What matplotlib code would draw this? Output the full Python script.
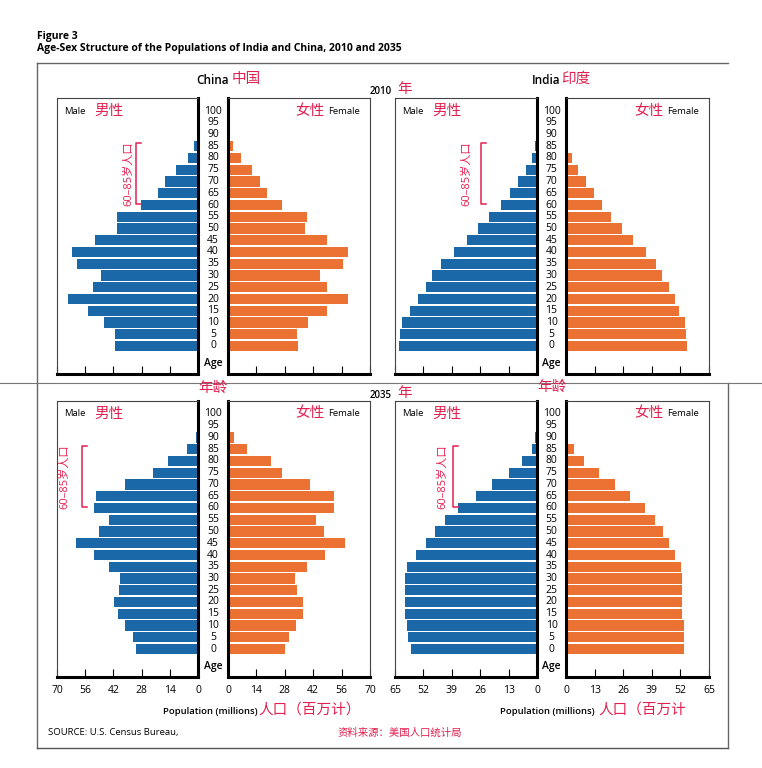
import matplotlib
matplotlib.use("Agg")
import matplotlib.pyplot as plt
from matplotlib.lines import Line2D
from matplotlib.transforms import blended_transform_factory

plt.rcParams['font.family'] = ['Open Sans', 'Noto Sans CJK SC', 'DejaVu Sans']

W, H = 762, 768
BLUE = '#1a68a8'
ORANGE = '#eb7232'
RED = '#e3204f'

ages = [str(a) for a in range(0, 101, 5)]

# population in millions, age groups 0-4 ... 100+
china_2010_m = [41.2, 41.2, 46.7, 54.8, 64.4, 52.1, 48.2, 60.1, 62.7, 51.0, 40.4,
                40.0, 28.3, 19.9, 16.2, 10.9, 5.1, 1.8, 0.6, 0, 0]
china_2010_f = [34.6, 33.8, 39.6, 48.9, 59.1, 48.9, 45.5, 56.5, 59.4, 48.9, 38.1,
                38.8, 26.8, 19.2, 15.9, 12.0, 6.6, 2.6, 0.3, 0, 0]
india_2010_m = [63.1, 62.8, 61.8, 58.3, 54.7, 50.9, 47.9, 43.9, 37.9, 32.0, 26.9,
                21.9, 16.7, 12.4, 8.6, 5.2, 2.3, 1.1, 0, 0, 0]
india_2010_f = [54.9, 54.4, 54.1, 51.4, 49.4, 47.0, 43.8, 41.0, 36.2, 30.5, 25.4,
                20.5, 16.3, 12.8, 9.0, 5.5, 2.7, 0.6, 0, 0, 0]
china_2035_m = [30.8, 32.3, 36.1, 39.9, 41.7, 39.1, 38.6, 44.0, 51.5, 60.6, 49.0,
                44.0, 51.5, 50.5, 36.1, 22.5, 15.1, 5.3, 0.8, 0, 0]
china_2035_f = [28.1, 30.2, 33.5, 36.9, 36.9, 34.0, 33.2, 38.8, 47.6, 57.6, 47.3,
                43.3, 52.4, 52.4, 40.4, 26.6, 21.2, 9.5, 2.8, 0, 0]
india_2035_m = [57.8, 58.9, 59.7, 60.3, 60.6, 60.6, 60.6, 59.7, 55.4, 50.8, 46.7,
                41.9, 36.1, 28.0, 20.4, 12.6, 6.7, 2.4, 0.8, 0, 0]
india_2035_f = [53.6, 53.6, 53.6, 52.8, 52.8, 52.8, 52.8, 52.2, 49.6, 47.0, 44.1,
                40.3, 35.9, 29.2, 22.1, 14.8, 8.2, 3.7, 0.9, 0, 0]

china_ticks = [0, 14, 28, 42, 56, 70]
india_ticks = [0, 13, 26, 39, 52, 65]


def fx(x):
    return x / W


def fy(y):
    return 1 - y / H


def add_ax(x0, x1, y0, y1):
    return fig.add_axes([fx(x0), fy(y1), (x1 - x0) / W, (y1 - y0) / H])


def ftext(x, y, s, **kw):
    kw.setdefault('va', 'center')
    fig.text(fx(x), fy(y), s, **kw)


def fline(xs, ys, **kw):
    fig.add_artist(Line2D([fx(v) for v in xs], [fy(v) for v in ys],
                          transform=fig.transFigure, **kw))


def style(ax, side, ticks, labels):
    for s in ax.spines.values():
        s.set_color('#444444')
        s.set_linewidth(0.8)
    inner = 'right' if side == 'm' else 'left'
    for s in (inner, 'bottom'):
        ax.spines[s].set_color('black')
        ax.spines[s].set_linewidth(2.2)
    ax.set_yticks([])
    ax.set_xticks(ticks)
    ax.tick_params(axis='x', direction='in', length=6, width=0.8, pad=6,
                   labelsize=7.5, labelbottom=labels)


def pyramid(x_m, x_f, y0, y1, male, female, ticks, labels, bracket):
    # y0: top of panel, y1: bottom of panel (pixels); rows 11.75 px apart
    top_pad = 13 / 11.75
    bot_pad = (y1 - y0 - 13) / 11.75 - 20
    idx = list(range(len(ages)))
    axm = add_ax(x_m[0], x_m[1], y0, y1)
    axf = add_ax(x_f[0], x_f[1], y0, y1)
    axm.barh(idx, male, height=0.88, color=BLUE)
    axf.barh(idx, female, height=0.88, color=ORANGE)
    axm.set_xlim(ticks[-1], 0)
    axf.set_xlim(0, ticks[-1])
    for a in (axm, axf):
        a.set_ylim(-bot_pad, 20 + top_pad)
    style(axm, 'm', ticks, labels)
    style(axf, 'f', ticks, labels)

    cx = (x_m[1] + x_f[0]) / 2
    tr = blended_transform_factory(fig.transFigure, axm.transData)
    for i, a in enumerate(ages):
        axm.text(fx(cx), i, a, transform=tr, ha='center', va='center',
                 fontsize=7.5, clip_on=False)
    axm.text(fx(cx), -1.45, 'Age', transform=tr, ha='center', va='center',
             fontsize=7.5, fontweight='semibold', clip_on=False)

    # panel headers
    ty = y0 + 13
    ftext(x_m[0] + 7, ty, 'Male', fontsize=6.8)
    ftext(x_m[0] + 37, ty, '男性', fontsize=10.5, color=RED)
    ftext(x_f[1] - 45, ty, '女性', fontsize=10.5, color=RED, ha='right')
    ftext(x_f[1] - 10, ty, 'Female', fontsize=6.8, ha='right')

    # 60-85 bracket
    bx, tx = bracket
    k = ticks[-1] / 70 * 2.6
    axm.plot([bx - k, bx, bx, bx - k], [17.3, 17.3, 12.1, 12.1],
             color=RED, lw=1.1, clip_on=False)
    axm.text(tx, 14.7, '60–85岁人口', rotation=90, ha='center', va='center',
             fontsize=8, color=RED, clip_on=False)


fig = plt.figure(figsize=(W / 100, H / 100), dpi=100)

# title
ftext(37, 37, 'Figure 3', fontsize=7.5, fontweight='bold')
ftext(37, 48, 'Age-Sex Structure of the Populations of India and China, 2010 and 2035',
      fontsize=7.5, fontweight='bold')

# frame lines
fline([37, 728], [63, 63], color='#666666', lw=1)
fline([37, 37], [63, 748], color='#666666', lw=1)
fline([37, 728], [748, 748], color='#555555', lw=1)
fline([728, 728], [383, 748], color='#666666', lw=1)
fline([0, 762], [383, 383], color='#777777', lw=0.8)

# country / year headers
ftext(196, 80, 'China', fontsize=8.5, fontweight='semibold')
ftext(232, 79, '中国', fontsize=10.5, color=RED)
ftext(532, 80, 'India', fontsize=8.5, fontweight='semibold')
ftext(561, 79, '印度', fontsize=10.5, color=RED)
ftext(370, 92, '2010', fontsize=7, fontweight='semibold')
ftext(397, 89, '年', fontsize=10.5, color=RED)
ftext(370, 395, '2035', fontsize=7, fontweight='semibold')
ftext(397, 393, '年', fontsize=10.5, color=RED)
ftext(213, 388, '年龄', fontsize=10.5, color=RED, ha='center')
ftext(552, 387, '年龄', fontsize=10.5, color=RED, ha='center')

# 2010 row
pyramid((57, 198), (228, 370), 98, 374, china_2010_m, china_2010_f,
        china_ticks, False, (30.8, 34.3))
pyramid((395, 537), (566, 709), 98, 374, india_2010_m, india_2010_f,
        india_ticks, False, (25.7, 32.1))
# 2035 row
pyramid((57, 198), (228, 370), 401, 677, china_2035_m, china_2035_f,
        china_ticks, True, (57.6, 66.0))
pyramid((395, 537), (566, 709), 401, 677, india_2035_m, india_2035_f,
        india_ticks, True, (38.5, 43.1))

# axis titles
ftext(258, 712, 'Population (millions)', fontsize=6.8, fontweight='semibold', ha='right')
ftext(258, 710, '人口（百万计）', fontsize=10.5, color=RED)
ftext(595, 712, 'Population (millions)', fontsize=6.8, fontweight='semibold', ha='right')
ftext(598, 710, '人口（百万计', fontsize=10.5, color=RED)

# source
ftext(48, 733, 'SOURCE: U.S. Census Bureau,', fontsize=6.8)
ftext(338, 733, '资料来源：美国人口统计局', fontsize=7.5, color=RED)

fig.savefig('out.png', dpi=100)
